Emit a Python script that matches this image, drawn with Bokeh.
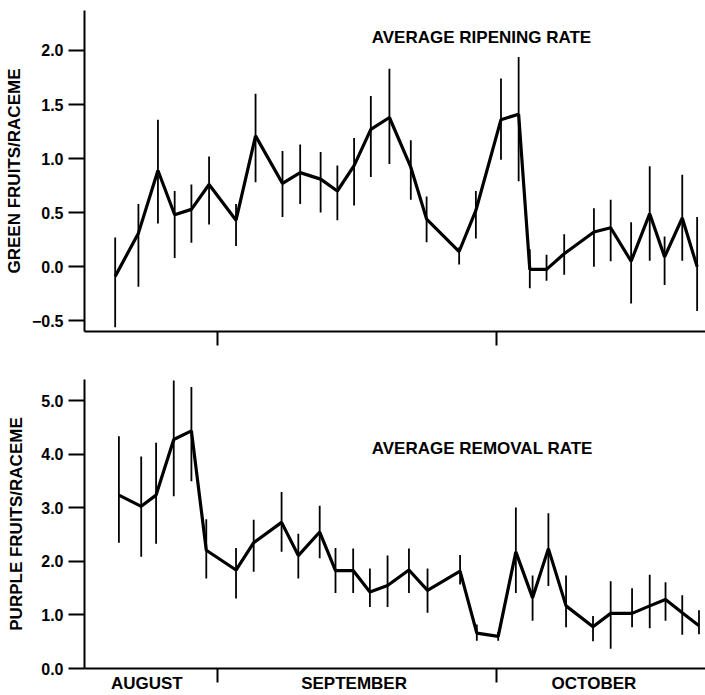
from bokeh.plotting import figure
from bokeh.layouts import column
from bokeh.models import FixedTicker, Label, Range1d
from bokeh.embed import file_html
from bokeh.resources import INLINE

# ---------------- data ----------------
# x: day of season (1 = Aug 1, 32 = Sep 1, 62 = Oct 1)
DAYS_G = [21.0, 23.5, 25.6, 27.4, 29.2, 31.1, 34.0, 36.1, 39.0, 40.9, 43.1, 44.9, 46.7, 48.5, 50.5, 52.8,
          54.5, 58.0, 59.8, 62.5, 64.4, 65.6, 67.4, 69.3, 72.5, 74.3, 76.5, 78.5, 80.1, 82.0, 83.6]
GREEN = [-0.09, 0.31, 0.89, 0.48, 0.53, 0.76, 0.43, 1.21, 0.77, 0.87, 0.81, 0.70, 0.935, 1.27, 1.38, 0.92,
         0.44, 0.14, 0.52, 1.36, 1.41, -0.025, -0.025, 0.12, 0.32, 0.36, 0.05, 0.49, 0.09, 0.45, 0.0]
GREEN_HI = [0.27, 0.58, 1.36, 0.70, 0.76, 1.02, 0.58, 1.60, 1.07, 1.13, 1.06, 0.935, 1.19, 1.58, 1.83, 1.17,
            0.65, 0.18, 0.70, 1.74, 1.94, 0.16, 0.11, 0.30, 0.54, 0.62, 0.41, 0.93, 0.28, 0.85, 0.46]
GREEN_LO = [-0.56, -0.185, 0.40, 0.08, 0.22, 0.39, 0.19, 0.78, 0.46, 0.58, 0.50, 0.43, 0.565, 0.83, 0.95, 0.62,
            0.225, 0.02, 0.26, 0.99, 0.79, -0.20, -0.13, -0.075, 0.0, 0.05, -0.34, 0.055, -0.17, 0.055, -0.41]

DAYS_P = [21.4, 23.8, 25.4, 27.3, 29.2, 30.8, 34.0, 35.9, 38.9, 40.7, 43.0, 44.7, 46.6, 48.4, 50.3, 52.6,
          54.6, 58.1, 59.9, 62.2, 64.1, 65.9, 67.6, 69.5, 72.4, 74.3, 76.6, 78.5, 80.2, 82.0, 83.8]
PURPLE = [3.24, 3.03, 3.24, 4.28, 4.44, 2.21, 1.84, 2.35, 2.73, 2.11, 2.55, 1.83, 1.83, 1.43, 1.55, 1.84,
          1.46, 1.82, 0.66, 0.60, 2.18, 1.32, 2.24, 1.17, 0.78, 1.03, 1.03, 1.17, 1.29, 1.04, 0.80]
PURPLE_HI = [4.34, 3.96, 4.22, 5.38, 5.26, 2.79, 2.25, 2.78, 3.30, 2.52, 3.04, 2.25, 2.24, 1.87, 2.11, 2.24,
             1.87, 2.12, 0.82, 0.68, 3.01, 1.74, 2.90, 1.74, 0.98, 1.63, 1.50, 1.75, 1.61, 1.37, 1.09]
PURPLE_LO = [2.35, 2.09, 2.33, 3.22, 3.50, 1.68, 1.31, 1.81, 2.18, 1.68, 2.06, 1.41, 1.41, 1.15, 1.15, 1.41,
             1.04, 1.57, 0.52, 0.52, 1.41, 0.89, 1.54, 0.77, 0.51, 0.37, 0.77, 0.75, 0.89, 0.63, 0.64]

MONTH_BOUNDS = [32, 62]
MONTH_NAMES = ["AUGUST", "SEPTEMBER", "OCTOBER"]
MONTH_CENTERS = [24.4, 46.7, 72.5]

Y_TICKS_TOP = [-0.5, 0.0, 0.5, 1.0, 1.5, 2.0]
Y_LABELS_TOP = ["\u22120.5", "0.0", "0.5", "1.0", "1.5", "2.0"]
Y_TICKS_BOT = [0.0, 1.0, 2.0, 3.0, 4.0, 5.0]
Y_LABELS_BOT = ["0.0", "1.0", "2.0", "3.0", "4.0", "5.0"]

TITLE_TOP = "AVERAGE RIPENING RATE"
TITLE_BOT = "AVERAGE REMOVAL RATE"
YLAB_TOP = "GREEN FRUITS/RACEME"
YLAB_BOT = "PURPLE FRUITS/RACEME"

FONT = "Liberation Sans"
X_START, X_END = 17.7, 84.5


def style(p, yticks, ylabels, ylabel, ylab_standoff):
    p.xgrid.visible = False
    p.ygrid.visible = False
    p.outline_line_color = None
    p.background_fill_color = "white"
    p.border_fill_color = "white"
    for ax in (p.xaxis[0], p.yaxis[0]):
        ax.axis_line_width = 2
        ax.axis_line_color = "black"
        ax.major_tick_line_width = 2
        ax.major_tick_line_color = "black"
        ax.minor_tick_line_width = 2
        ax.minor_tick_line_color = "black"
        ax.major_tick_in = 0
        ax.minor_tick_in = 0
        ax.minor_tick_out = 0
    ya = p.yaxis[0]
    ya.ticker = FixedTicker(ticks=yticks, minor_ticks=[])
    ya.major_label_overrides = dict(zip(yticks, ylabels))
    ya.major_tick_out = 16
    ya.major_label_standoff = 5
    ya.major_label_text_font = FONT
    ya.major_label_text_font_size = "16px"
    ya.major_label_text_font_style = "bold"
    ya.major_label_text_color = "black"
    ya.axis_label = ylabel
    ya.axis_label_text_font = FONT
    ya.axis_label_text_font_size = "17px"
    ya.axis_label_text_font_style = "bold"
    ya.axis_label_text_color = "black"
    ya.axis_label_standoff = ylab_standoff


# ---------------- top panel ----------------
p1 = figure(width=705, height=360, output_backend="svg", toolbar_location=None,
            x_range=Range1d(X_START, X_END), y_range=Range1d(-0.60, 2.37),
            min_border_left=84, min_border_right=0, min_border_top=10, min_border_bottom=29)
style(p1, Y_TICKS_TOP, Y_LABELS_TOP, YLAB_TOP, 5)
xa = p1.xaxis[0]
xa.ticker = FixedTicker(ticks=MONTH_BOUNDS, minor_ticks=[])
xa.major_tick_out = 14
xa.major_label_overrides = {t: "" for t in MONTH_BOUNDS}
xa.major_label_text_font_size = "1px"
xa.major_label_standoff = 0
p1.segment(x0=DAYS_G, y0=GREEN_LO, x1=DAYS_G, y1=GREEN_HI, line_color="black", line_width=1.8)
p1.line(DAYS_G, GREEN, line_color="black", line_width=3.2)
p1.add_layout(Label(x=48.6, y=2.21, text=TITLE_TOP, text_font=FONT, text_font_size="17px",
                    text_font_style="bold", text_baseline="top", text_align="left", text_color="black"))

# ---------------- bottom panel ----------------
p2 = figure(width=705, height=335, output_backend="svg", toolbar_location=None,
            x_range=Range1d(X_START, X_END), y_range=Range1d(0.0, 5.40),
            min_border_left=82, min_border_right=0, min_border_top=19, min_border_bottom=25)
style(p2, Y_TICKS_BOT, Y_LABELS_BOT, YLAB_BOT, 12)
xb = p2.xaxis[0]
xb.ticker = FixedTicker(ticks=MONTH_CENTERS, minor_ticks=MONTH_BOUNDS)
xb.major_label_overrides = dict(zip(MONTH_CENTERS, MONTH_NAMES))
xb.major_tick_out = 0
xb.minor_tick_out = 14
xb.major_label_standoff = -9
xb.major_label_text_font = FONT
xb.major_label_text_font_size = "17px"
xb.major_label_text_font_style = "bold"
xb.major_label_text_color = "black"
p2.segment(x0=DAYS_P, y0=PURPLE_LO, x1=DAYS_P, y1=PURPLE_HI, line_color="black", line_width=1.8)
p2.line(DAYS_P, PURPLE, line_color="black", line_width=3.2)
p2.add_layout(Label(x=48.6, y=4.28, text=TITLE_BOT, text_font=FONT, text_font_size="17px",
                    text_font_style="bold", text_baseline="top", text_align="left", text_color="black"))

layout = column(p1, p2, spacing=0)
open("out.html", "w").write(file_html(layout, INLINE))
